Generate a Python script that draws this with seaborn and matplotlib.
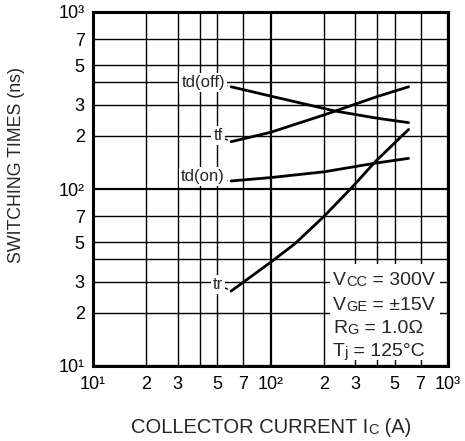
import numpy as np
import pandas as pd
import matplotlib
matplotlib.use("Agg")
import matplotlib.pyplot as plt
import seaborn as sns
from matplotlib.ticker import FixedLocator, FixedFormatter

# ---------------- data ----------------
ic_td_off = [60, 100, 230, 400, 600]
t_td_off = [378, 335, 276, 251, 237]

ic_tf = [60, 100, 200, 400, 600]
t_tf = [185, 209, 262, 333, 378]

ic_td_on = [60, 100, 200, 390, 600]
t_td_on = [111, 116, 125, 140, 149]

ic_tr = [60, 100, 137, 200, 290, 390, 600]
t_tr = [26.5, 38.5, 49, 70, 103, 143, 217]

series_names = ["td(off)", "tf", "td(on)", "tr"]

x_major = [10, 100, 1000]
x_major_labels = ["10¹", "10²", "10³"]
x_minor = [20, 30, 40, 50, 70, 200, 300, 400, 500, 700]
x_minor_labels = ["2", "3", "", "5", "7", "2", "3", "", "5", "7"]

y_major = [10, 100, 1000]
y_major_labels = ["10¹", "10²", "10³"]
y_minor = [20, 30, 40, 50, 70, 200, 300, 400, 500, 700]
y_minor_labels = ["2", "3", "", "5", "7", "2", "3", "", "5", "7"]

conditions = [
    [("V", 14), ("CC", 10.5), (" = 300V", 14)],
    [("V", 14), ("GE", 10.5), (" = ±15V", 14)],
    [("R", 14), ("G", 10.5), (" = 1.0Ω", 14)],
    [("T", 14), ("j", 11), (" = 125°C", 14)],
]
xlabel_parts = [("COLLECTOR CURRENT I", 14.5), ("C", 10.5), (" (A)", 14.5)]
ylabel_text = "SWITCHING TIMES (ns)"

# ---------------- build table ----------------
frames = []
for name, xs, ys in zip(series_names,
                        [ic_td_off, ic_tf, ic_td_on, ic_tr],
                        [t_td_off, t_tf, t_td_on, t_tr]):
    frames.append(pd.DataFrame({"series": name, "ic": xs, "t": ys}))
df = pd.concat(frames, ignore_index=True)

# ---------------- style ----------------
sns.set_style("white")
plt.rcParams["font.family"] = ["Liberation Sans", "DejaVu Sans"]

fig = plt.figure(figsize=(4.65, 4.41), dpi=100)
ax = fig.add_axes([93 / 465, 1 - 366 / 441, 355 / 465, 354 / 441])

sns.lineplot(data=df, x="ic", y="t", hue="series", units="series",
             estimator=None, sort=False, legend=False,
             palette={n: "black" for n in series_names},
             linewidth=2.0, ax=ax, zorder=3)

ax.set_xscale("log")
ax.set_yscale("log")
ax.set_xlim(10, 1000)
ax.set_ylim(10, 1000)

ax.xaxis.set_major_locator(FixedLocator(x_major))
ax.xaxis.set_major_formatter(FixedFormatter(x_major_labels))
ax.xaxis.set_minor_locator(FixedLocator(x_minor))
ax.xaxis.set_minor_formatter(FixedFormatter(x_minor_labels))
ax.yaxis.set_major_locator(FixedLocator(y_major))
ax.yaxis.set_major_formatter(FixedFormatter(y_major_labels))
ax.yaxis.set_minor_locator(FixedLocator(y_minor))
ax.yaxis.set_minor_formatter(FixedFormatter(y_minor_labels))

ax.tick_params(which="both", length=0, labelsize=13, colors="black")
ax.tick_params(axis="x", which="both", pad=7)
ax.tick_params(axis="y", which="both", pad=6)

ax.grid(which="major", color="black", linewidth=1.6)
ax.grid(which="minor", color="black", linewidth=1.0)
ax.set_axisbelow(True)

for sp in ax.spines.values():
    sp.set_visible(True)
    sp.set_color("black")
    sp.set_linewidth(2.2)

ax.set_xlabel("")
ax.set_ylabel(ylabel_text, fontsize=12.8)
ax.yaxis.set_label_coords((25 - 93) / 355, 0.568)

# ---------------- series labels ----------------
label_pos = {"td(off)": (41.7, 400), "tf": (50.6, 200),
             "td(on)": (41.5, 117), "tr": (50.6, 29)}
series_xy = {"td(off)": (ic_td_off[0], t_td_off[0]), "tf": (ic_tf[0], t_tf[0]),
             "td(on)": (ic_td_on[0], t_td_on[0]), "tr": (ic_tr[0], t_tr[0])}
for name in series_names:
    ax.annotate(name, xy=series_xy[name], xytext=label_pos[name],
                ha="center", va="center", fontsize=12, zorder=4,
                bbox=dict(boxstyle="square,pad=0.12", fc="white", ec="none"),
                arrowprops=dict(arrowstyle="-", lw=1.0, color="black",
                                shrinkA=0, shrinkB=3))

# ---------------- condition box ----------------
ax.add_patch(plt.Rectangle((0.668, 0.017), 0.31, 0.27, transform=ax.transAxes,
                           facecolor="white", edgecolor="none", zorder=2.5))


def chain(first, parts):
    prev = first
    for s, fs in parts:
        prev = ax.annotate(s, xy=(1, 0), xycoords=prev, fontsize=fs,
                           va="bottom", ha="left", zorder=5,
                           annotation_clip=False)
    return prev


baselines = [285, 310, 333, 356]
for parts, yb in zip(conditions, baselines):
    first = ax.text((333 - 93) / 355, (366 - yb) / 354, parts[0][0],
                    transform=ax.transAxes, fontsize=parts[0][1],
                    va="baseline", ha="left", zorder=5)
    chain(first, parts[1:])

# ---------------- x label (rich) ----------------
first = fig.text(131 / 465, 1 - 433 / 441, xlabel_parts[0][0],
                 fontsize=xlabel_parts[0][1], va="baseline", ha="left")
chain(first, xlabel_parts[1:])

fig.savefig("out.png", dpi=100)
